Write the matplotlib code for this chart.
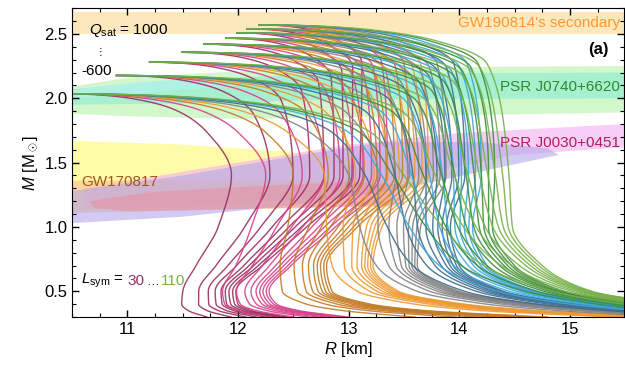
import numpy as np
import matplotlib
matplotlib.use('Agg')
import matplotlib.pyplot as plt
from matplotlib.ticker import MultipleLocator

plt.rcParams['font.family'] = ['Liberation Sans', 'DejaVu Sans']
plt.rcParams['mathtext.fontset'] = 'custom'
plt.rcParams['mathtext.rm'] = 'Liberation Sans'
plt.rcParams['mathtext.it'] = 'Liberation Sans:italic'
plt.rcParams['mathtext.bf'] = 'Liberation Sans:bold'

# ---------------- data ----------------
L_sym = [30, 40, 50, 60, 70, 80, 90, 100, 110]
Q_sat = [-600, -400, -200, 0, 200, 400, 600, 800, 1000]
L_colors = ['#9B2D5E', '#D9408A', '#C47A24', '#EE9A34', '#838383',
            '#3E6B8C', '#3BA8DE', '#3C8C3C', '#76B14A']

# maximum mass and radius at maximum mass for each Q_sat
M_max = [2.035, 2.177, 2.28, 2.357, 2.42, 2.466, 2.508, 2.539, 2.57]
R_Mmax = [10.40, 10.90, 11.20, 11.49, 11.69, 11.89, 11.99, 12.08, 12.19]
Q_weight = [0.0, 0.30, 0.48, 0.61, 0.72, 0.80, 0.87, 0.94, 1.0]

# radii (km) at fixed masses, for Q_sat=-600 (lo) and Q_sat=1000 (hi)
M_knots = [1.4, 1.0, 0.7, 0.5, 0.4, 0.35, 0.3]
R_lo = [
    [11.94, 11.82, 11.62, 11.50, 11.49, 11.55, 11.72],
    [12.25, 12.12, 11.98, 11.86, 11.88, 12.00, 12.30],
    [12.50, 12.45, 12.38, 12.40, 12.62, 12.95, 13.60],
    [12.78, 12.80, 12.85, 13.08, 13.60, 14.20, 15.40],
    [13.00, 13.10, 13.25, 13.62, 14.25, 14.90, 15.95],
    [13.15, 13.35, 13.58, 14.05, 14.70, 15.35, 16.20],
    [13.30, 13.55, 13.82, 14.35, 15.00, 15.60, 16.30],
    [13.40, 13.70, 14.02, 14.60, 15.25, 15.80, 16.60],
    [13.50, 13.85, 14.22, 14.85, 15.50, 16.10, 16.90],
]
R_hi = [
    [13.10, 12.62, 12.22, 11.98, 12.00, 12.12, 12.45],
    [13.35, 12.88, 12.48, 12.28, 12.35, 12.55, 13.00],
    [13.55, 13.08, 12.80, 12.85, 13.20, 13.70, 14.80],
    [13.72, 13.30, 13.22, 13.45, 14.05, 14.70, 15.90],
    [13.88, 13.65, 13.62, 14.00, 14.72, 15.45, 16.50],
    [14.05, 13.92, 14.00, 14.40, 15.10, 15.80, 16.70],
    [14.20, 14.12, 14.25, 14.70, 15.40, 16.00, 16.90],
    [14.32, 14.30, 14.50, 14.95, 15.70, 16.30, 17.20],
    [14.45, 14.48, 14.75, 15.20, 15.95, 16.60, 17.60],
]
# radius 0.3 Msun below maximum mass
R_top_lo = [11.72, 12.00, 12.25, 12.45, 12.65, 12.85, 13.00, 13.10, 13.20]
R_top_hi = [13.12, 13.30, 13.50, 13.65, 13.80, 13.95, 14.07, 14.17, 14.25]
top_d = [0.01, 0.04, 0.12]       # distance below M_max
top_frac = [0.27, 0.50, 0.77]    # fraction of rise toward R_top

# observational regions (R [km], M [Msun])
gw190814_M = [2.50, 2.67]
j0740_outer_R = [10.5, 11.0, 12.0, 13.5, 15.5, 15.5, 13.5, 12.0, 11.0, 10.5]
j0740_outer_M = [2.09, 2.16, 2.21, 2.24, 2.25, 1.89, 1.86, 1.84, 1.86, 1.88]
j0740_inner_R = [10.5, 11.5, 13.0, 15.5, 15.5, 13.0, 11.5, 10.5]
j0740_inner_M = [2.07, 2.15, 2.19, 2.20, 2.00, 1.99, 1.96, 1.95]
j0740_cyan_R = [10.5, 11.0, 12.0, 12.0, 11.0, 10.5]
j0740_cyan_M = [2.06, 2.12, 2.17, 2.10, 2.03, 2.00]
j0030_outer_R = [10.6, 12.0, 13.0, 14.0, 15.5, 15.5, 14.5, 13.5, 12.5, 11.5, 10.6]
j0030_outer_M = [1.30, 1.50, 1.64, 1.73, 1.80, 1.62, 1.56, 1.38, 1.24, 1.15, 1.14]
j0030_inner_R = [10.5, 11.5, 12.7, 13.5, 14.3, 14.9, 14.8, 14.2, 13.3, 12.5, 11.5, 10.5]
j0030_inner_M = [1.03, 1.08, 1.19, 1.30, 1.45, 1.56, 1.61, 1.66, 1.66, 1.55, 1.40, 1.28]
gw170817_y_R = [10.5, 11.5, 12.5, 13.5, 14.0, 13.5, 12.0, 10.5]
gw170817_y_M = [1.67, 1.64, 1.58, 1.50, 1.42, 1.28, 1.17, 1.12]
gw170817_o_R = [10.5, 13.4, 13.4, 10.5]
gw170817_o_M = [1.36, 1.36, 1.16, 1.11]
gw170817_r_R = [10.65, 11.2, 12.0, 13.0, 13.5, 13.5, 12.0, 11.0, 10.7]
gw170817_r_M = [1.20, 1.27, 1.31, 1.35, 1.33, 1.17, 1.14, 1.12, 1.15]


def pchip(x, y, xn):
    x = np.asarray(x, float); y = np.asarray(y, float)
    h = np.diff(x); dl = np.diff(y) / h
    n = len(x); d = np.zeros(n)
    for k in range(1, n - 1):
        if dl[k - 1] * dl[k] > 0:
            w1 = 2 * h[k] + h[k - 1]; w2 = h[k] + 2 * h[k - 1]
            d[k] = (w1 + w2) / (w1 / dl[k - 1] + w2 / dl[k])
    d[0] = dl[0]; d[-1] = dl[-1]
    idx = np.clip(np.searchsorted(x, xn) - 1, 0, n - 2)
    t = (xn - x[idx]) / h[idx]
    h00 = 2 * t**3 - 3 * t**2 + 1; h10 = t**3 - 2 * t**2 + t
    h01 = -2 * t**3 + 3 * t**2; h11 = t**3 - t**2
    return (h00 * y[idx] + h10 * h[idx] * d[idx] + h01 * y[idx + 1]
            + h11 * h[idx] * d[idx + 1])


fig = plt.figure(figsize=(6.25, 3.7), dpi=100)
ax = fig.add_axes([0.1155, 0.143, 0.883, 0.835])

# regions
ax.axhspan(gw190814_M[0], gw190814_M[1], color='#FDE8BC', lw=0, zorder=0)
ax.fill(j0740_outer_R, j0740_outer_M, color='#D2F7CB', lw=0, zorder=0)
ax.fill(j0740_inner_R, j0740_inner_M, color='#A6F0CF', lw=0, zorder=0)
ax.fill(j0740_cyan_R, j0740_cyan_M, color='#B4F2EC', lw=0, alpha=0.7, zorder=0)
ax.fill(gw170817_y_R, gw170817_y_M, color='#FFFBA8', lw=0, zorder=0)
ax.fill(j0030_outer_R, j0030_outer_M, color='#F4AEF0', lw=0, alpha=0.6, zorder=0)
ax.fill(gw170817_o_R, gw170817_o_M, color='#F8C08E', lw=0, alpha=0.6, zorder=0)
ax.fill(j0030_inner_R, j0030_inner_M, color='#B4A8EA', lw=0, alpha=0.6, zorder=0)
ax.fill(gw170817_r_R, gw170817_r_M, color='#E8909E', lw=0, alpha=0.55, zorder=0)

# mass-radius curves
for i, L in enumerate(L_sym):
    for j, Q in enumerate(Q_sat):
        w = Q_weight[j]
        mm = M_max[j]; r0 = R_Mmax[j]
        rtop = R_top_lo[i] + w * (R_top_hi[i] - R_top_lo[i])
        rmid = [R_lo[i][k] + w * (R_hi[i][k] - R_lo[i][k]) for k in range(len(M_knots))]
        Ms = [mm] + [mm - d for d in top_d] + [mm - 0.3] + M_knots
        Rs = [r0] + [r0 + f * (rtop - r0) for f in top_frac] + [rtop] + rmid
        s = np.sqrt(mm - np.array(Ms))
        sn = np.linspace(0, s[-1], 800)
        Rn = pchip(s, Rs, sn)
        Mn = mm - sn**2
        ax.plot(Rn, Mn, color=L_colors[i], lw=1.0, alpha=0.9, zorder=2)

ax.set_xlim(10.5, 15.49)
ax.set_ylim(0.3, 2.7)
ax.xaxis.set_major_locator(MultipleLocator(1))
ax.xaxis.set_minor_locator(MultipleLocator(0.25))
ax.yaxis.set_major_locator(MultipleLocator(0.5))
ax.yaxis.set_minor_locator(MultipleLocator(0.1))
ax.tick_params(which='both', direction='in', top=True, right=True, labelsize=12)
ax.tick_params(which='major', length=5, width=1)
ax.tick_params(which='minor', length=3, width=0.8)
ax.set_xlabel(r'$R$ [km]', fontsize=12, labelpad=2)
ax.set_ylabel(r'$M$ [M$_\odot$]', fontsize=12, labelpad=3)

# labels
ax.text(15.45, 2.585, "GW190814's secondary", color='#FF9933', fontsize=11,
        ha='right', va='center')
ax.text(15.35, 2.38, '(a)', fontsize=12, fontweight='bold', ha='right', va='center')
ax.text(15.45, 2.09, 'PSR J0740+6620', color='#2E8B2E', fontsize=11,
        ha='right', va='center')
ax.text(15.45, 1.655, 'PSR J0030+0451', color='#B3205E', fontsize=11,
        ha='right', va='center')
ax.text(10.58, 1.35, 'GW170817', color='#A0561E', fontsize=11,
        ha='left', va='center')
ax.text(10.65, 2.525, r'$Q_{\rm sat}$ = 1000', fontsize=11, ha='left', va='center')
ax.text(10.76, 2.36, '\u22ee', fontsize=7, ha='center', va='center',
        family=['DejaVu Sans'])
ax.text(10.58, 2.215, '-600', fontsize=11, ha='left', va='center')
ax.text(10.58, 0.58, r'$L_{\rm sym}$ =', fontsize=11, ha='left', va='center')
ax.text(11.0, 0.58, '30', color='#9B2D5E', fontsize=11, ha='left', va='center')
ax.text(11.17, 0.575, '\u2026', fontsize=9, ha='left', va='center')
ax.text(11.3, 0.58, '110', color='#76B14A', fontsize=11, ha='left', va='center')

fig.savefig('out.png', dpi=100)
